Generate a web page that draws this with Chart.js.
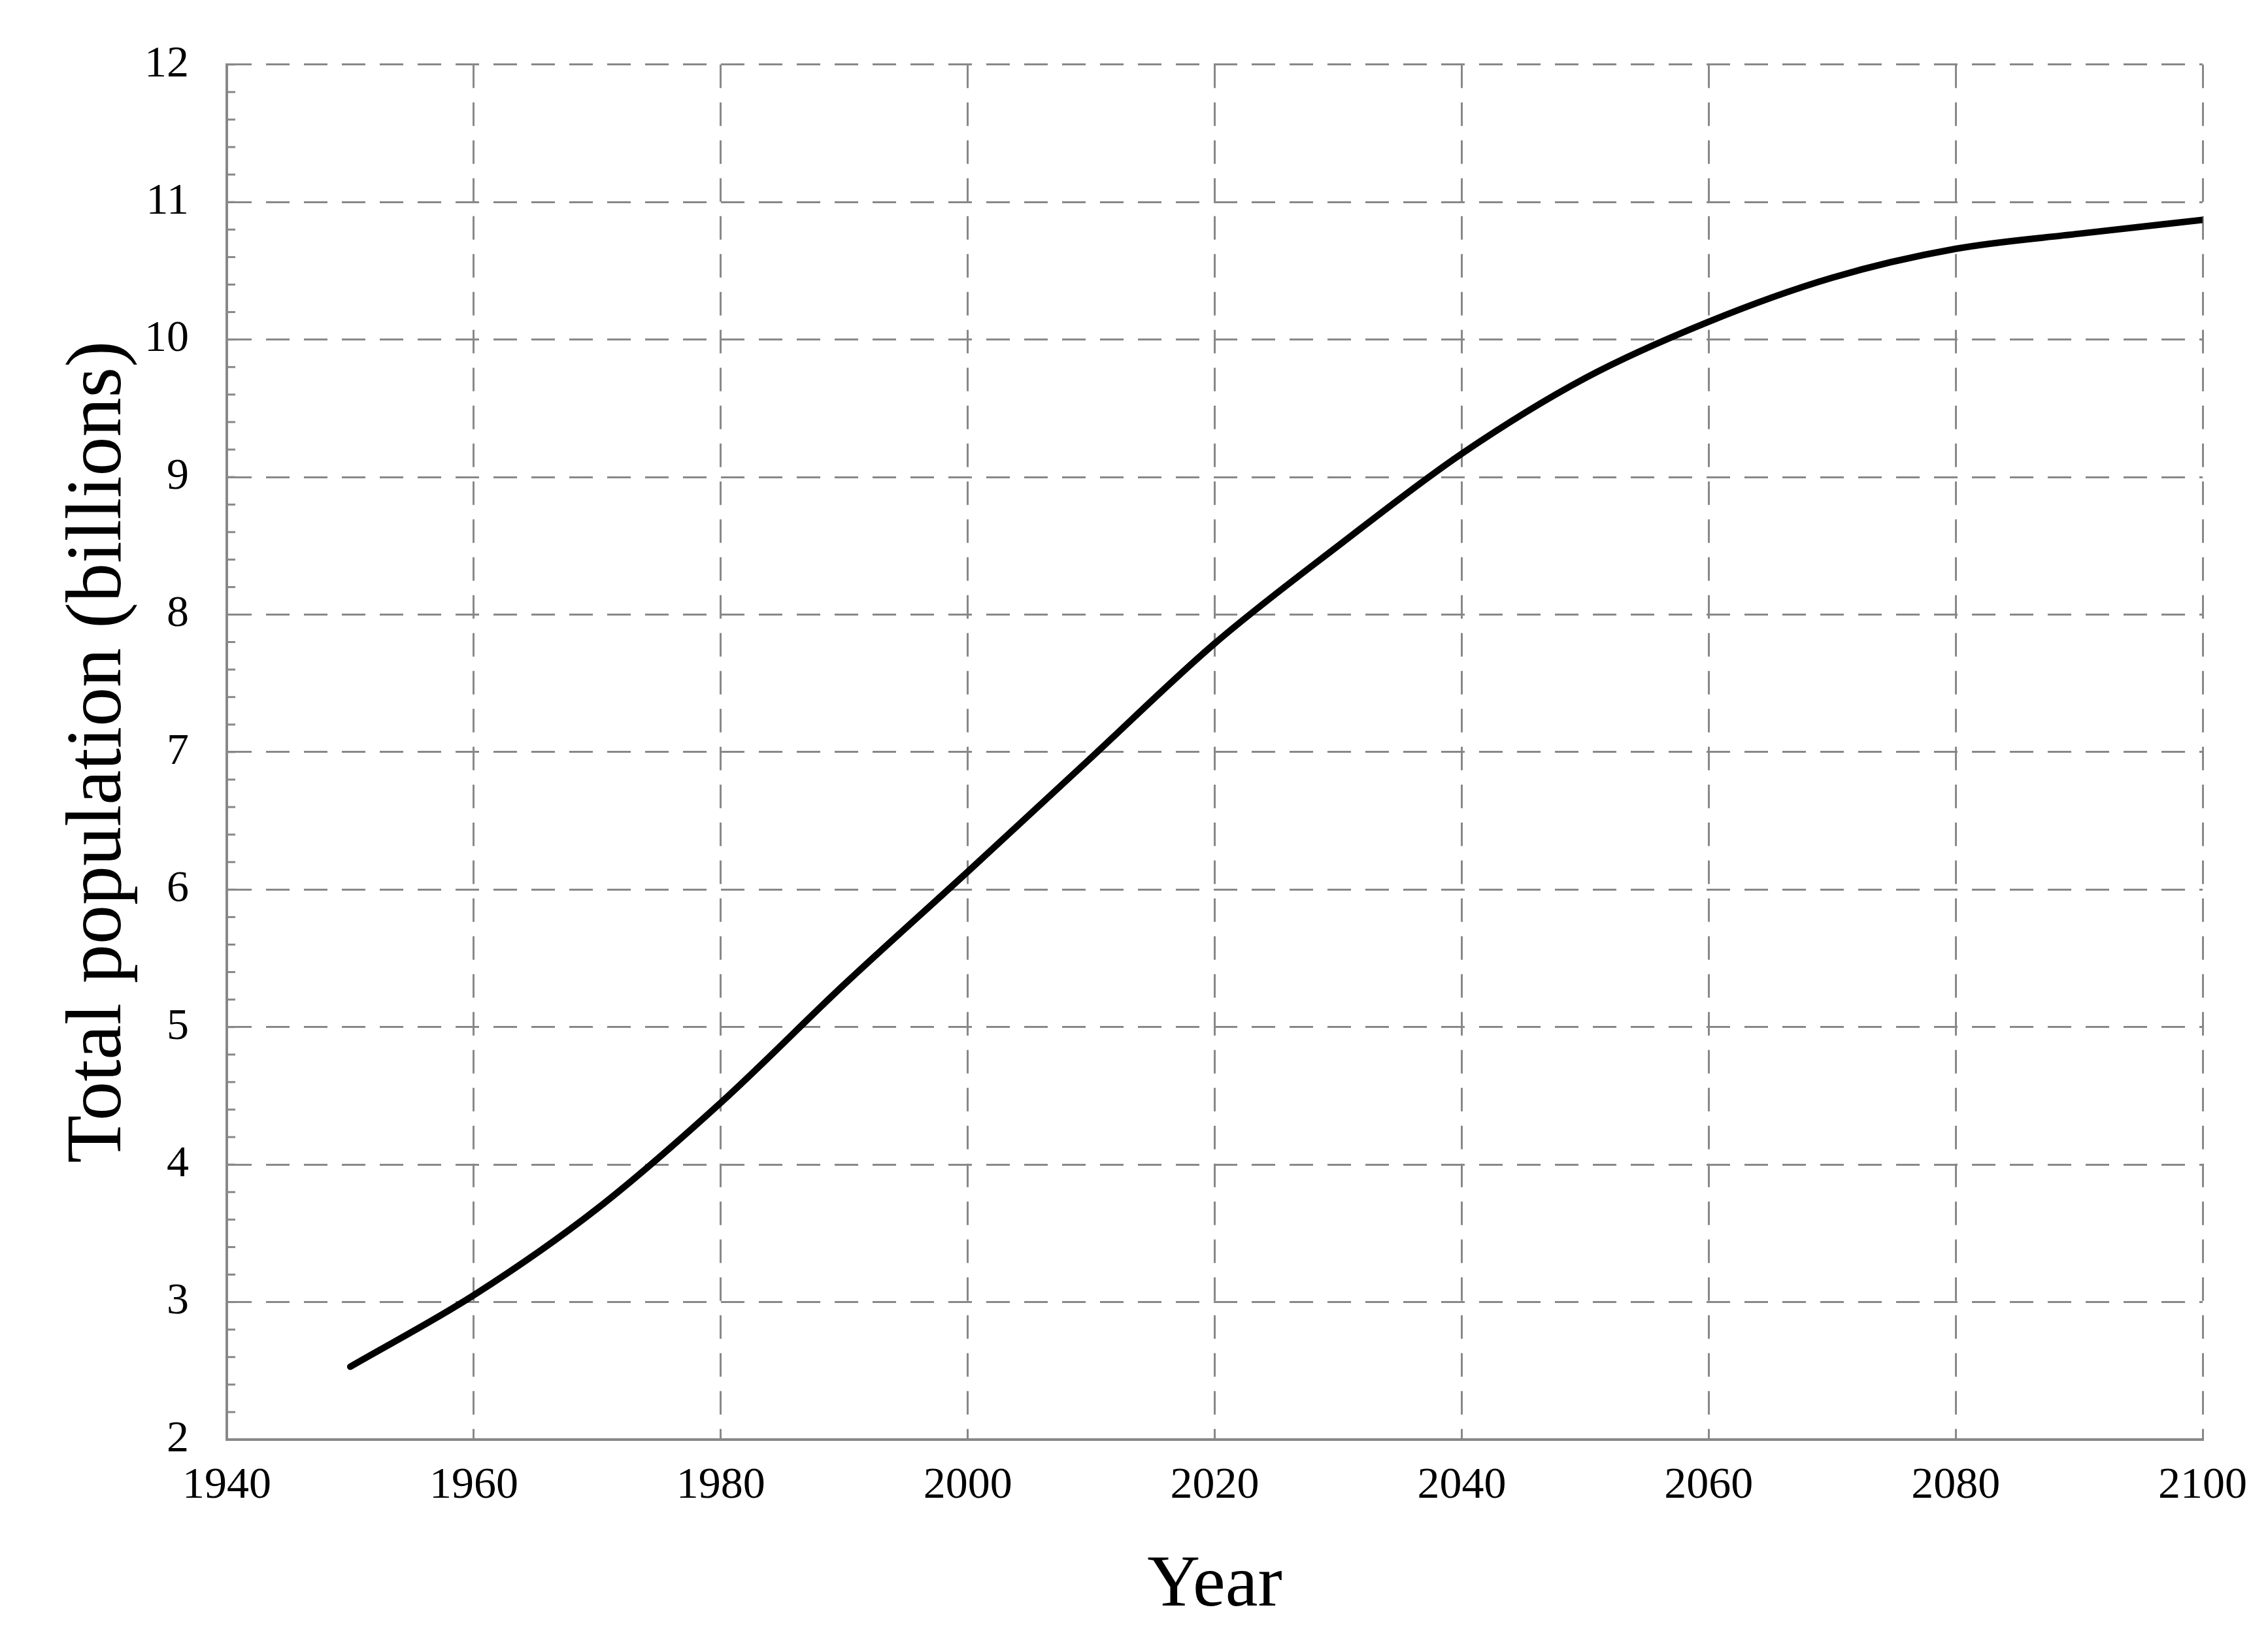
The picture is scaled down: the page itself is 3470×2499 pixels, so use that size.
<!DOCTYPE html>
<html><head><script src="https://cdn.jsdelivr.net/npm/chart.js@4"></script>
<style>html,body{margin:0;background:#fff}#w{width:3470px;height:2499px}</style></head>
<body><div id="w"><canvas id="c"></canvas></div>
<script>
const years = [1950,1960,1970,1980,1990,2000,2010,2020,2030,2040,2050,2060,2070,2080,2090,2100];
const population = [2.53,3.05,3.68,4.45,5.31,6.13,6.96,7.79,8.5,9.17,9.72,10.13,10.45,10.66,10.77,10.87];
const xTicks = [1940,1960,1980,2000,2020,2040,2060,2080,2100];
const yTicks = [2,3,4,5,6,7,8,9,10,11,12];
const F = "'Liberation Serif', 'Times New Roman', serif";
const minorTicks = {
  id:'minor',
  afterDraw(ch){
    const c=ch.ctx, y=ch.scales.y, x=ch.scales.x;
    c.save(); c.strokeStyle='#888'; c.lineWidth=3;
    for(let v=2; v<=12.001; v+=0.2){
      const p=y.getPixelForValue(v);
      c.beginPath(); c.moveTo(x.left,p); c.lineTo(x.left+13,p); c.stroke();
    }
    c.restore();
  }
};
new Chart(document.getElementById('c'),{
  type:'line',
  data:{datasets:[{data:years.map((y,i)=>({x:y,y:population[i]})),borderColor:'#000',borderWidth:10,pointRadius:0,cubicInterpolationMode:'monotone',borderCapStyle:'round'}]},
  options:{responsive:true,maintainAspectRatio:false,animation:false,
    layout:{padding:{top:66,right:100,left:0,bottom:0}},
    plugins:{legend:{display:false},tooltip:{enabled:false}},
    scales:{
      x:{type:'linear',min:1940,max:2100,
        afterBuildTicks(s){s.ticks=xTicks.map(v=>({value:v}));},
        afterFit(s){s.height=296;},
        grid:{color:'#888',lineWidth:3,drawTicks:false},
        border:{display:true,color:'#888',width:4,dash:[36,22]},
        ticks:{color:'#000',font:{family:F,size:68},padding:30,maxRotation:0,callback:v=>String(v)},
        title:{display:true,text:'Year',color:'#000',font:{family:F,size:112},padding:{top:10}}},
      y:{min:2,max:12,
        afterBuildTicks(s){s.ticks=yTicks.map(v=>({value:v}));},
        afterFit(s){s.width=347;},
        grid:{color:'#888',lineWidth:3,drawTicks:false},
        border:{display:true,color:'#888',width:4,dash:[36,22]},
        ticks:{color:'#000',font:{family:F,size:68},padding:58},
        title:{display:true,text:'Total population (billions)',color:'#000',font:{family:F,size:120},padding:{top:80,bottom:0}}}
    }
  },
  plugins:[minorTicks]
});
</script></body></html>
